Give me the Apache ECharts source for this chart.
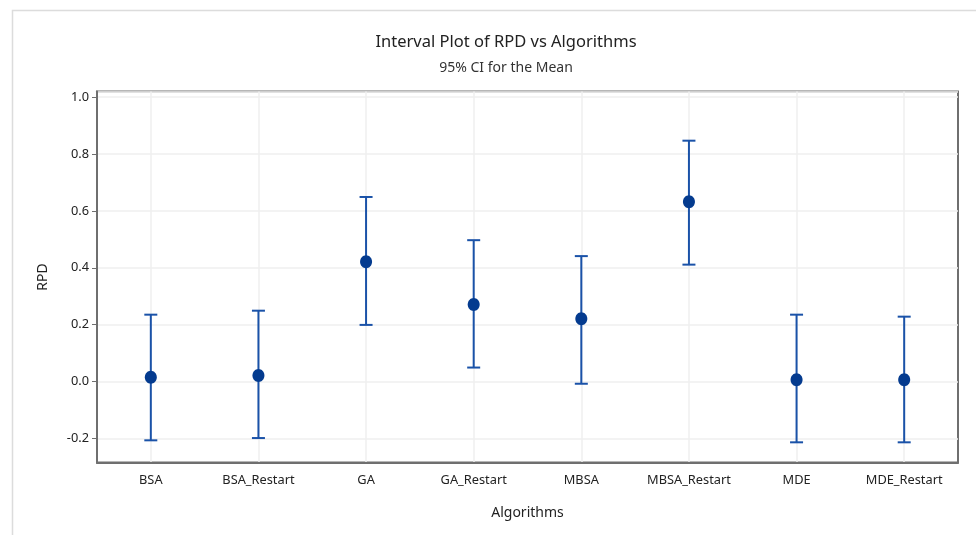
<!DOCTYPE html>
<html>
<head>
<meta charset="utf-8">
<script src="https://cdn.jsdelivr.net/npm/echarts@6/dist/echarts.min.js"></script>
<style>
html,body{margin:0;padding:0;background:#fff;}
#chart{width:976px;height:535px;}
</style>
</head>
<body>
<div id="chart"></div>
<script>
const categories = ['BSA','BSA_Restart','GA','GA_Restart','MBSA','MBSA_Restart','MDE','MDE_Restart'];
const means = [0.015, 0.021, 0.421, 0.271, 0.221, 0.632, 0.006, 0.006];
const lowerCI = [-0.207, -0.199, 0.199, 0.049, -0.008, 0.411, -0.214, -0.214];
const upperCI = [0.235, 0.249, 0.649, 0.497, 0.441, 0.847, 0.235, 0.228];
const yTicks = [-0.2, 0.0, 0.2, 0.4, 0.6, 0.8, 1.0];

const data = categories.map((c, i) => [i, lowerCI[i], upperCI[i], means[i]]);
const lineColor = '#1a52a8';
const dotColor = '#043b8f';
const font = 'Noto Sans';
const frameColor = '#6f6f6f';

const chart = echarts.init(document.getElementById('chart'), null, {renderer: 'canvas'});
chart.setOption({
  animation: false,
  backgroundColor: '#fff',
  graphic: [{
    type: 'rect', left: 10, top: 8, shape: {width: 980, height: 540},
    style: {fill: 'none', stroke: '#dcdcdc', lineWidth: 1.5}, silent: true, z: -10
  }],
  title: [{
    text: 'Interval Plot of RPD vs Algorithms',
    left: 501, top: 29, textAlign: 'center',
    textStyle: {fontFamily: font, fontSize: 16.5, fontWeight: 'normal', color: '#222'}
  }, {
    text: '95% CI for the Mean',
    left: 501, top: 56, textAlign: 'center',
    textStyle: {fontFamily: font, fontSize: 14, fontWeight: 'normal', color: '#333'}
  }],
  grid: {left: 97, right: 18, top: 91.5, bottom: 72.5, show: true, borderColor: frameColor, borderWidth: 2, backgroundColor: '#fff'},
  xAxis: {
    type: 'category',
    data: categories,
    boundaryGap: true,
    name: 'Algorithms',
    nameLocation: 'middle',
    nameGap: 44,
    nameTextStyle: {fontFamily: font, fontSize: 14, color: '#222'},
    axisLine: {onZero: false, lineStyle: {color: frameColor, width: 2}},
    axisTick: {alignWithLabel: true, interval: 0, length: 6, lineStyle: {color: frameColor, width: 1}},
    axisLabel: {interval: 0, hideOverlap: false, fontFamily: font, fontSize: 12.8, color: '#222', margin: 11},
    splitLine: {show: true, interval: 0, alignWithLabel: true, lineStyle: {color: '#efefef', width: 1.5}}
  },
  yAxis: {
    type: 'value',
    min: -0.285,
    max: 1.02,
    splitNumber: 6,
    minInterval: 0.2,
    maxInterval: 0.2,
    name: 'RPD',
    nameLocation: 'middle',
    nameGap: 47,
    nameTextStyle: {fontFamily: font, fontSize: 14, color: '#222'},
    axisLine: {show: true, onZero: false, lineStyle: {color: frameColor, width: 2}},
    axisTick: {show: true, length: 5, lineStyle: {color: frameColor, width: 1}},
    axisLabel: {
      fontFamily: font, fontSize: 12.8, color: '#222', margin: 8,
      showMinLabel: false, showMaxLabel: false,
      formatter: v => yTicks.some(t => Math.abs(t - v) < 1e-6) ? v.toFixed(1) : ''
    },
    splitLine: {show: true, lineStyle: {color: '#efefef', width: 1.5}}
  },
  series: [{
    type: 'custom',
    data: data,
    encode: {x: 0, y: [1, 2, 3]},
    renderItem: function (params, api) {
      const x = api.value(0);
      const pLo = api.coord([x, api.value(1)]);
      const pHi = api.coord([x, api.value(2)]);
      const pM = api.coord([x, api.value(3)]);
      const hw = 6.5;
      const st = {stroke: lineColor, lineWidth: 2};
      return {
        type: 'group',
        children: [
          {type: 'line', shape: {x1: pHi[0], y1: pHi[1], x2: pLo[0], y2: pLo[1]}, style: st},
          {type: 'line', shape: {x1: pHi[0] - hw, y1: pHi[1], x2: pHi[0] + hw, y2: pHi[1]}, style: st},
          {type: 'line', shape: {x1: pLo[0] - hw, y1: pLo[1], x2: pLo[0] + hw, y2: pLo[1]}, style: st},
          {type: 'ellipse', shape: {cx: pM[0], cy: pM[1], rx: 6, ry: 6.5}, style: {fill: dotColor}}
        ]
      };
    }
  }]
});
</script>
</body>
</html>
